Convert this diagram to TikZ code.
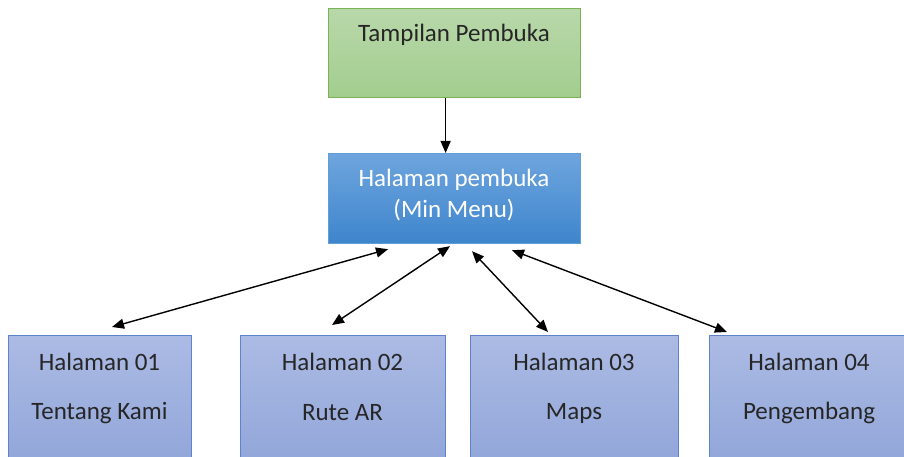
\documentclass[tikz,border=0pt]{standalone}
\usepackage{fontspec}
\setmainfont{Carlito}
\usetikzlibrary{arrows.meta,calc}
\definecolor{txtgray}{RGB}{38,38,38}
\definecolor{gtop}{RGB}{184,216,170}
\definecolor{gbot}{RGB}{163,205,143}
\definecolor{gborder}{RGB}{122,178,86}
\definecolor{btop}{RGB}{110,165,222}
\definecolor{bbot}{RGB}{62,133,204}
\definecolor{bborder}{RGB}{96,158,214}
\definecolor{ltop}{RGB}{172,187,228}
\definecolor{lbot}{RGB}{140,162,215}
\definecolor{lborder}{RGB}{96,130,205}
\tikzset{
  greenbox/.style={draw=gborder, line width=1.2pt, top color=gtop, bottom color=gbot, minimum width=252pt, minimum height=89pt, anchor=north west, inner sep=0pt},
  bluebox/.style={draw=bborder, line width=1.2pt, top color=btop, bottom color=bbot, minimum width=252pt, minimum height=90pt, anchor=north west, inner sep=0pt},
  pagebox/.style={draw=lborder, line width=1.2pt, top color=ltop, bottom color=lbot, minimum height=150pt, anchor=north west, inner sep=0pt},
  lbl/.style={font=\fontsize{25}{30}\selectfont, text=txtgray, inner sep=0pt},
  wlbl/.style={font=\fontsize{25}{31}\selectfont, text=white, inner sep=0pt, align=center},
  biarrow/.style={line width=1.4pt, {Triangle[length=12pt,width=10pt]}-{Triangle[length=12pt,width=10pt]}},
  onearrow/.style={line width=1.4pt, -{Triangle[length=12pt,width=10pt]}}
}
\begin{document}
\begin{tikzpicture}[x=1pt,y=-1pt]
\useasboundingbox (0,0) rectangle (904,457);
\clip (0,0) rectangle (904,457);
% top box
\node[greenbox] (t) at (328,8) {};
\node[lbl] (tl) at (454,35) {Tampilan Pembuka};
% middle box
\node[bluebox] (m) at (328,153) {};
\node[wlbl] (ml) at (454,195) {Halaman pembuka\\(Min Menu)};
% bottom boxes
\node[pagebox, minimum width=183pt] (b1) at (8,335) {};
\node[pagebox, minimum width=205pt] (b2) at (240,335) {};
\node[pagebox, minimum width=208pt] (b3) at (470,335) {};
\node[pagebox, minimum width=200pt] (b4) at (709,335) {};
\node[lbl] (b1a) at (99.5,362) {Halaman 01};
\node[lbl] (b1b) at (99.5,413) {Tentang Kami};
\node[lbl] (b2a) at (342.5,362) {Halaman 02};
\node[lbl] (b2b) at (342.5,413) {Rute AR};
\node[lbl] (b3a) at (574,362) {Halaman 03};
\node[lbl] (b3b) at (574,413) {Maps};
\node[lbl] (b4a) at (809,362) {Halaman 04};
\node[lbl] (b4b) at (809,413) {Pengembang};
% connectors
\draw[onearrow] ([xshift=-9pt]t.south) -- ([xshift=-9pt]m.north);
\draw[biarrow] ([shift={(104,-8)}]b1.north west) -- ([shift={(60,5)}]m.south west);
\draw[biarrow] ([shift={(92,-10)}]b2.north west) -- ([shift={(122,2)}]m.south west);
\draw[biarrow] ([shift={(78,-3)}]b3.north west) -- ([shift={(144,7)}]m.south west);
\draw[biarrow] ([shift={(18,-3)}]b4.north west) -- ([shift={(184,6)}]m.south west);
\end{tikzpicture}
\end{document}
